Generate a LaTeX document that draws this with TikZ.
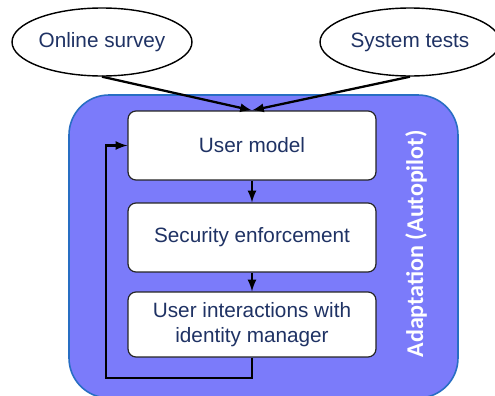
\documentclass[tikz,border=0pt]{standalone}
\usepackage{fontspec}
\setmainfont{Liberation Sans}
\newfontfamily\sidefont{Carlito}
\usetikzlibrary{shapes.geometric}
\definecolor{navytext}{RGB}{31,50,100}
\definecolor{autofill}{RGB}{123,123,250}
\definecolor{autoline}{RGB}{40,110,195}
\tikzset{
  source/.style={draw=black,thick,ellipse,inner sep=0pt,fill=white,minimum width=3.6cm,minimum height=1.36cm,
    text=navytext,font=\fontsize{11.8}{14}\selectfont},
  stagebox/.style={draw=black!85,line width=0.7pt,rounded corners=0.16cm,fill=white,
    minimum width=4.96cm,text=navytext,align=center,font=\fontsize{11.8}{14}\selectfont},
  flow/.style={line width=1.3pt,-latex}
}
\begin{document}
\begin{tikzpicture}[x=0.02cm,y=-0.02cm]
\useasboundingbox (0,0) rectangle (495,396);
% Adaptation area
\draw[autoline,fill=autofill,line width=0.9pt,rounded corners=0.8cm] (69,95) rectangle (458,398);
\node[rotate=90,text=white,font=\sidefont\bfseries\fontsize{13.7}{16}\selectfont] (adapt) at (416,244) {Adaptation (Autopilot)};

% Inputs
\node[source] (survey) at (102,42) {Online survey};
\node[source] (tests) at (410,42) {System tests};

% Stages
\node[stagebox,minimum height=1.38cm] (usermodel) at (252,145.5) {User model};
\node[stagebox,minimum height=1.38cm] (enforce) at (252,237.5) {Security enforcement};
\node[stagebox,minimum height=1.3cm] (interact) at (252,324.5) {User interactions with\\identity manager};

% Connectors
\draw[flow] (survey.south) -- (usermodel.north);
\draw[flow] (tests.south) -- (usermodel.north);
\draw[flow] (usermodel) -- (enforce);
\draw[flow] (enforce) -- (interact);
\coordinate (loopcorner) at (106,378);
\draw[flow] (interact.south) |- (loopcorner) |- (usermodel.west);
\end{tikzpicture}
\end{document}
